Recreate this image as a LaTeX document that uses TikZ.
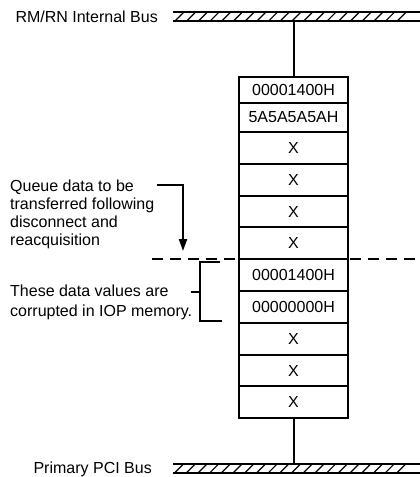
\documentclass[tikz,border=0pt]{standalone}
\usepackage{fontspec}
\setmainfont{Liberation Sans}
\usetikzlibrary{arrows.meta,positioning}

\begin{document}
\begin{tikzpicture}[x=1pt,y=-1pt,
  cell/.style={draw,line width=2pt,minimum width=109pt,minimum height=31.8pt,
    inner sep=0pt,outer sep=0pt,font=\fontsize{16}{18}\selectfont},
  note/.style={inner sep=0pt,align=left,font=\fontsize{16}{18}\selectfont},
  bus/.style={line width=2pt},
  hatch/.style={line width=1.2pt},
  cut/.style={line width=2.4pt,dash pattern=on 11pt off 7pt}]
  \useasboundingbox (0,0) rectangle (420,477); % 画像全体の大きさ
  \draw[bus] (173,12) -- (420,12); % 上のバスの上側の線
  \draw[bus] (173,21) -- (420,21); % 上のバスの下側の線
  \foreach \i in {0,...,19}
    \draw[hatch] (175+11.7*\i,21) -- (184+11.7*\i,12); % 上のバスの斜線
  \draw[bus] (173,463.5) -- (420,463.5); % 下のバスの上側の線
  \draw[bus] (173,472.5) -- (420,472.5); % 下のバスの下側の線
  \foreach \i in {0,...,19}
    \draw[hatch] (175+11.7*\i,472.5) -- (184+11.7*\i,463.5); % 下のバスの斜線
  \node[note,anchor=base east] (topname) at (158,22.3) {RM/RN Internal Bus};
  \node[note,anchor=base east] (botname) at (152,473.3) {Primary PCI Bus};
  \node[cell,minimum height=26pt] (r1) at (293.5,90) {00001400H}; % キューの先頭
  \node[cell,minimum height=29pt,below=0pt of r1] (r2) {5A5A5A5AH};
  \node[cell,below=0pt of r2] (r3) {X};
  \node[cell,below=0pt of r3] (r4) {X};
  \node[cell,below=0pt of r4] (r5) {X};
  \node[cell,below=0pt of r5] (r6) {X};
  \node[cell,below=0pt of r6] (r7) {00001400H}; % 壊れたデータ
  \node[cell,below=0pt of r7] (r8) {00000000H}; % 壊れたデータ
  \node[cell,below=0pt of r8] (r9) {X};
  \node[cell,below=0pt of r9] (r10) {X};
  \node[cell,below=0pt of r10] (r11) {X};
  \coordinate (topbus) at (293.5,21);
  \coordinate (botbus) at (293.5,463.5);
  \draw[bus] (topbus) -- (r1.north); % 上のバスとの接続
  \draw[bus] (r11.south) -- (botbus); % 下のバスとの接続
  \coordinate (cutL) at (152,0);
  \coordinate (cutR) at (420,0);
  \draw[cut] (cutL |- r6.south) -- (cutR |- r6.south); % 切断位置を示す破線
  \node[note,anchor=base west] (queue) at (10,245.3)
    {Queue data to be\\transferred following\\disconnect and\\reacquisition};
  \coordinate (qto) at (183,251);
  \draw[bus,-{Triangle[length=12pt,width=8pt]}]
    ([xshift=3pt,yshift=-5.7pt]queue.north east) -| (qto); % 説明から破線への矢印
  \node[note,anchor=base west,font=\fontsize{16}{19.5}\selectfont] (corrupt) at (10,316.2)
    {These data values are\\corrupted in IOP memory.};
  \coordinate (brtop) at (220,262);
  \coordinate (brbot) at (222,321);
  \coordinate (brmid) at (191,292);
  \draw[bus] (brtop) -- (200,262) -- (200,321) -- (brbot); % 壊れたデータを囲む括弧
  \draw[bus] (brmid) -- ++(9,0); % 括弧の中央の線
\end{tikzpicture}
\end{document}
